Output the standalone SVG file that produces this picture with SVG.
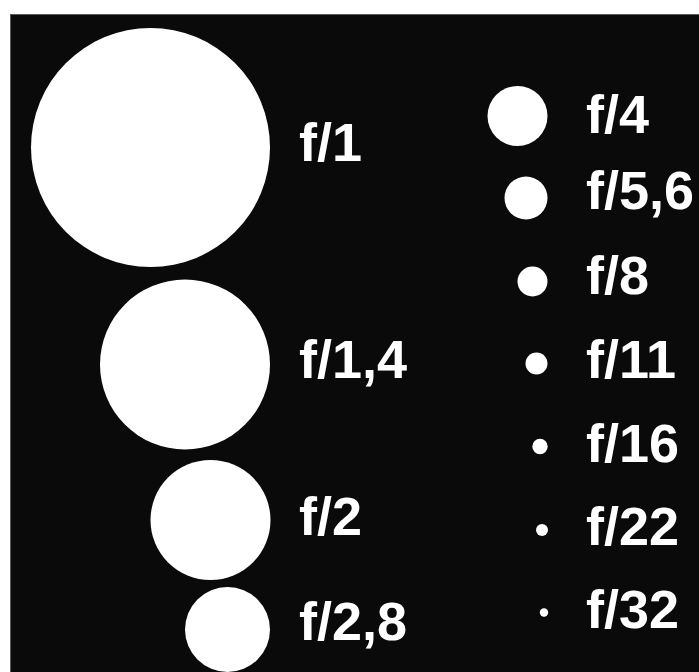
<svg xmlns="http://www.w3.org/2000/svg" width="699" height="672" viewBox="0 0 699 672">
<style>
.bg{fill:#0a0a0a;stroke:#5a5a5a;stroke-width:1}
.dot{fill:#ffffff}
.lbl{fill:#ffffff;font-family:"Liberation Sans",Arial,sans-serif;font-weight:bold;font-size:54px}
</style>
<rect x="0" y="0" width="699" height="672" fill="#ffffff"/>
<rect class="bg" x="10.5" y="14.5" width="700" height="670"/>
<g id="f1"><circle class="dot" cx="150.5" cy="147.5" r="119.5"/><text class="lbl" x="299" y="161">f/1</text></g>
<g id="f1_4"><circle class="dot" cx="185" cy="364.5" r="85"/><text class="lbl" x="299" y="378">f/1,4</text></g>
<g id="f2"><circle class="dot" cx="210.5" cy="520" r="60"/><text class="lbl" x="299" y="535">f/2</text></g>
<g id="f2_8"><circle class="dot" cx="227.5" cy="629.5" r="42.5"/><text class="lbl" x="299" y="640">f/2,8</text></g>
<g id="f4"><circle class="dot" cx="517.5" cy="116" r="30"/><text class="lbl" x="586" y="133">f/4</text></g>
<g id="f5_6"><circle class="dot" cx="526" cy="198" r="21.5"/><text class="lbl" x="586" y="209">f/5,6</text></g>
<g id="f8"><circle class="dot" cx="532.5" cy="281.5" r="15"/><text class="lbl" x="586" y="294">f/8</text></g>
<g id="f11"><circle class="dot" cx="536.5" cy="363.5" r="11"/><text class="lbl" x="586" y="378">f/11</text></g>
<g id="f16"><circle class="dot" cx="540" cy="446.5" r="7.7"/><text class="lbl" x="586" y="462">f/16</text></g>
<g id="f22"><circle class="dot" cx="542" cy="530" r="6"/><text class="lbl" x="586" y="545">f/22</text></g>
<g id="f32"><circle class="dot" cx="544" cy="612.5" r="4.2"/><text class="lbl" x="586" y="628">f/32</text></g>
<g id="connectors"/>
</svg>
